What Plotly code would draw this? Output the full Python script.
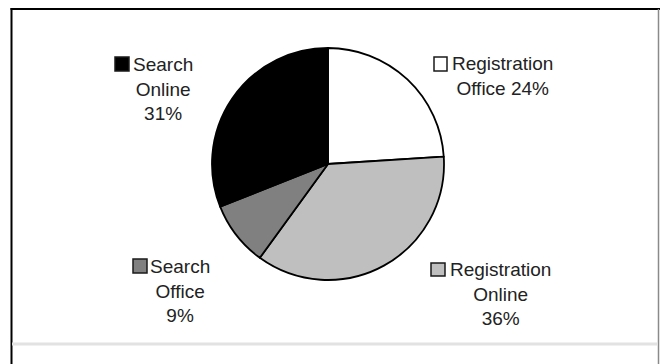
import plotly.graph_objects as go

# Share of requests by channel
labels = ["Registration Office", "Registration Online", "Search Office", "Search Online"]
values = [24, 36, 9, 31]
colors = ["#ffffff", "#bfbfbf", "#808080", "#000000"]

# Text lines shown beside each slice (value appended on the last line)
label_lines = [["Registration", "Office"], ["Registration", "Online"], ["Search", "Office"], ["Search", "Online"]]
value_on_own_line = [False, True, True, True]

W, H = 660, 364

# Label placement in pixels: text centre (x, y) and key-square box (x0, y0, x1, y1)
label_pos = [(502, 76), (500, 294), (180, 291), (163, 89)]
key_box = [(434, 57, 447, 71), (431, 263, 445, 276), (133, 259, 147, 273), (115, 57, 129, 71)]


def px(x):
    return x / W


def py(y):
    return 1 - y / H


fig = go.Figure(
    go.Pie(
        labels=labels,
        values=values,
        sort=False,
        direction="clockwise",
        rotation=0,
        marker=dict(colors=colors, line=dict(color="#000000", width=1.8)),
        textinfo="none",
        hoverinfo="label+percent",
        domain=dict(x=[px(200), px(456)], y=[py(280), py(48)]),
        showlegend=False,
    )
)

annotations = []
shapes = []
for lines, v, own, (tx, ty), (x0, y0, x1, y1), c in zip(
    label_lines, values, value_on_own_line, label_pos, key_box, colors
):
    if own:
        text = "<br>".join(lines + [f"{v}%"])
    else:
        text = "<br>".join(lines[:-1] + [f"{lines[-1]} {v}%"])
    annotations.append(
        dict(
            x=px(tx), y=py(ty), xref="paper", yref="paper",
            xanchor="center", yanchor="middle", showarrow=False,
            text=text, align="center",
            font=dict(family="Liberation Sans, Arial, sans-serif", size=19, color="#222222"),
        )
    )
    shapes.append(
        dict(
            type="rect", xref="paper", yref="paper",
            x0=px(x0), x1=px(x1), y0=py(y1), y1=py(y0),
            fillcolor=c, line=dict(color="#1a1a1a", width=1.5),
        )
    )

# Frame lines around the chart area
shapes += [
    dict(type="line", xref="paper", yref="paper", x0=px(11.5), x1=px(11.5), y0=0, y1=py(8),
         line=dict(color="#000000", width=2)),
    dict(type="line", xref="paper", yref="paper", x0=px(10.5), x1=1, y0=py(9), y1=py(9),
         line=dict(color="#000000", width=2)),
    dict(type="line", xref="paper", yref="paper", x0=px(658.5), x1=px(658.5), y0=0, y1=py(9),
         line=dict(color="#8a8a8a", width=1.5)),
    dict(type="line", xref="paper", yref="paper", x0=px(12), x1=px(658), y0=py(344), y1=py(344),
         line=dict(color="#e2e2e2", width=3)),
]

fig.update_layout(
    width=W, height=H,
    margin=dict(l=0, r=0, t=0, b=0),
    paper_bgcolor="#ffffff",
    plot_bgcolor="#ffffff",
    annotations=annotations,
    shapes=shapes,
)

fig.write_html("out.html")
